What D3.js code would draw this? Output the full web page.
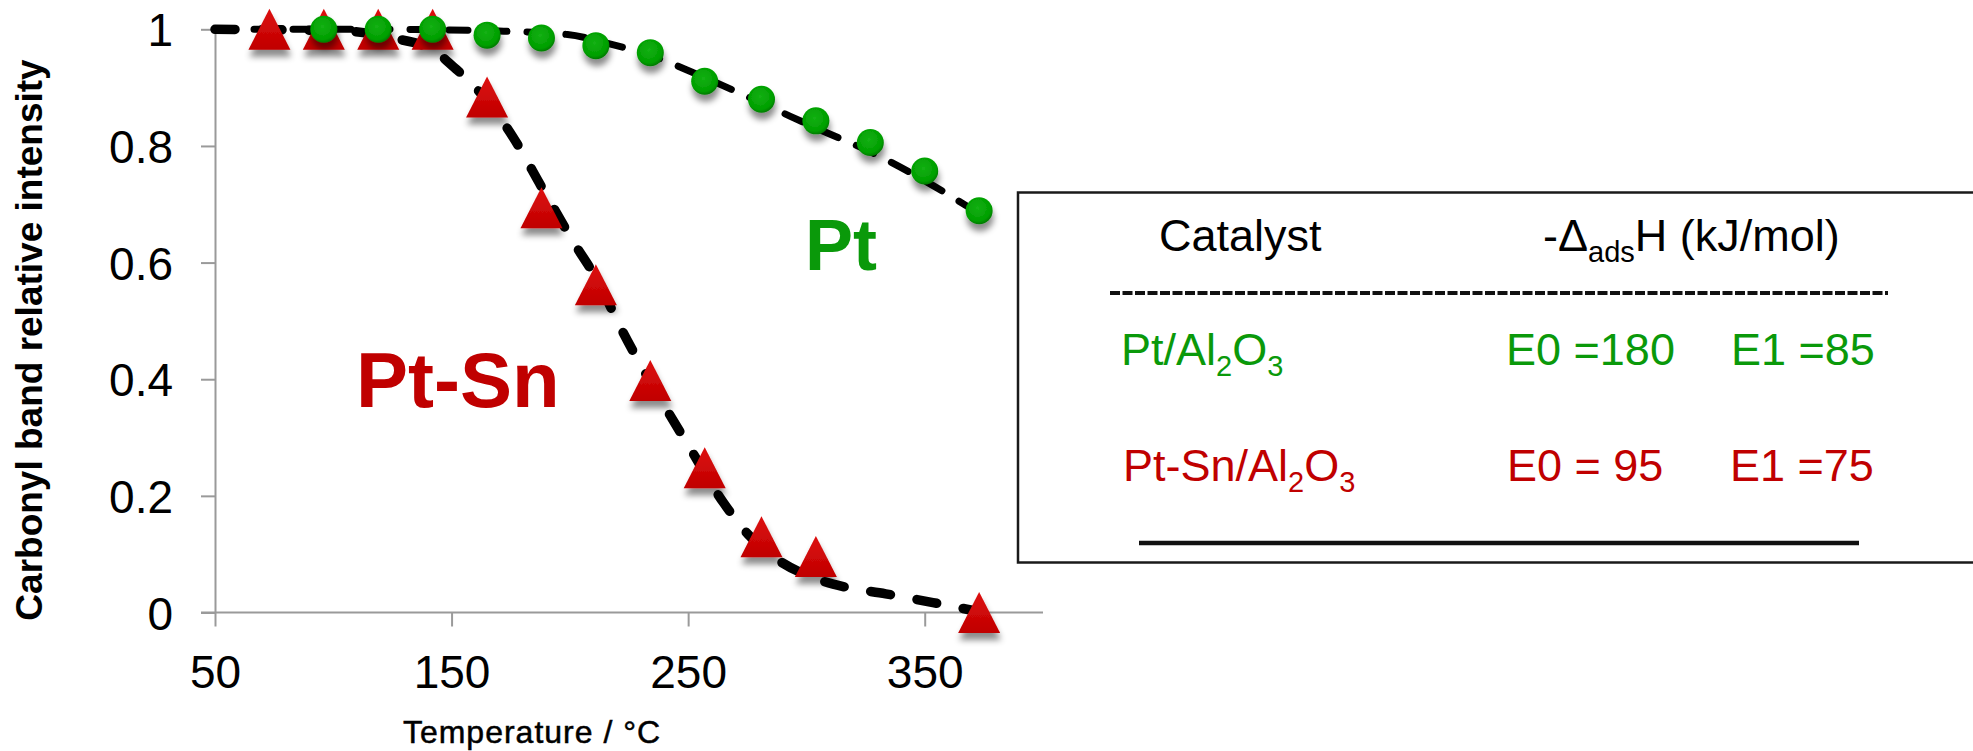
<!DOCTYPE html>
<html>
<head>
<meta charset="utf-8">
<script src="https://cdn.jsdelivr.net/npm/d3@7/dist/d3.min.js"></script>
<style>
  html, body { margin: 0; padding: 0; background: #fff; }
  svg { display: block; }
  text { font-family: "Liberation Sans", Arial, sans-serif; }
</style>
</head>
<body>
<svg id="chart" width="1973" height="751"></svg>
<script>
// ---- data ----
const ptSnTemp = [73, 96, 119, 142, 165, 188, 211, 234, 257, 281, 304, 373];
const ptSnVal  = [1, 1, 1, 1, 0.884, 0.694, 0.562, 0.398, 0.248, 0.13, 0.096, 0.0];

const ptTemp = [96, 119, 142, 165, 188, 211, 234, 257, 281, 304, 327, 350, 373];
const ptVal  = [1, 1, 1, 0.99, 0.985, 0.972, 0.96, 0.911, 0.88, 0.843, 0.806, 0.757, 0.689];

// fitted curves
const ptFitTemp = [50, 120, 170, 199, 216, 233.5, 256, 285, 305, 328, 351, 371];
const ptFitVal  = [1, 1, 0.997, 0.991, 0.976, 0.956, 0.919, 0.866, 0.829, 0.788, 0.738, 0.689];

const ptSnFitTemp = [50, 105, 125, 142, 151, 159, 176, 188, 202, 211, 222, 239, 250, 265, 276, 288, 302, 316, 333.5, 353.5, 371];
const ptSnFitVal  = [1, 0.997, 0.985, 0.965, 0.935, 0.905, 0.815, 0.73, 0.632, 0.574, 0.484, 0.361, 0.287, 0.188, 0.131, 0.09, 0.061, 0.044, 0.032, 0.017, 0.003];

const xTicks = [50, 150, 250, 350];
const yTicks = [0, 0.2, 0.4, 0.6, 0.8, 1];
const yTickLabels = ["0", "0.2", "0.4", "0.6", "0.8", "1"];

const tableHeader = ["Catalyst", "-Δ", "ads", "H (kJ/mol)"];
const tableRows = [
  { name: "Pt/Al", e0: "E0 =180", e1: "E1 =85", color: "#0a990a" },
  { name: "Pt-Sn/Al", e0: "E0 = 95", e1: "E1 =75", color: "#c00000" }
];

// ---- layout ----
const svg = d3.select("#chart");
const x = d3.scaleLinear().domain([50, 400]).range([215, 1043]);
const y = d3.scaleLinear().domain([0, 1]).range([612.5, 29.3]);

const defs = svg.append("defs");
const f = defs.append("filter").attr("id", "shadow")
  .attr("x", "-50%").attr("y", "-50%").attr("width", "200%").attr("height", "220%");
f.append("feDropShadow").attr("dx", 1).attr("dy", 7).attr("stdDeviation", 3.2)
  .attr("flood-color", "#000").attr("flood-opacity", 0.45);

const tg = defs.append("linearGradient").attr("id", "triGrad").attr("x1", 0).attr("y1", 0).attr("x2", 0).attr("y2", 1);
tg.append("stop").attr("offset", "0%").attr("stop-color", "#dd1010");
tg.append("stop").attr("offset", "100%").attr("stop-color", "#c00000");
const cg = defs.append("radialGradient").attr("id", "cirGrad").attr("cx", "45%").attr("cy", "40%").attr("r", "60%");
cg.append("stop").attr("offset", "0%").attr("stop-color", "#14b014");
cg.append("stop").attr("offset", "80%").attr("stop-color", "#009f00");
cg.append("stop").attr("offset", "100%").attr("stop-color", "#007a00");

// ---- axes ----
const axisColor = "#9a9a9a";
const yAxis = d3.axisLeft(y).tickValues(yTicks).tickSize(14).tickSizeOuter(0)
  .tickFormat((d, i) => yTickLabels[i]).tickPadding(28);
const gy = svg.append("g").attr("transform", `translate(${x(50)},0)`).call(yAxis);
gy.selectAll("path,line").attr("stroke", axisColor).attr("stroke-width", 2);
gy.selectAll("text").attr("font-size", 46).attr("fill", "#000").attr("dy", "0.36em")
  .attr("font-family", "Liberation Sans, Arial, sans-serif");

const xAxis = d3.axisBottom(x).tickValues(xTicks).tickSize(14).tickSizeOuter(0).tickPadding(0);
const gx = svg.append("g").attr("transform", `translate(0,${y(0)})`).call(xAxis);
gx.select(".domain").remove();
gx.append("line").attr("x1", x(50) - 14).attr("x2", x(400)).attr("y1", 0).attr("y2", 0)
  .attr("stroke", axisColor).attr("stroke-width", 2);
gx.selectAll("line").attr("stroke", axisColor).attr("stroke-width", 2);
gx.selectAll(".tick text").attr("font-size", 46).attr("fill", "#000").attr("y", 75).attr("dy", 0)
  .attr("font-family", "Liberation Sans, Arial, sans-serif");

svg.append("text").attr("x", 532).attr("y", 743).attr("text-anchor", "middle")
  .attr("font-size", 32).attr("letter-spacing", 1).attr("fill", "#000")
  .attr("stroke", "#000").attr("stroke-width", 0.5)
  .text("Temperature / °C");

svg.append("text").attr("transform", "translate(42,340) rotate(-90)")
  .attr("text-anchor", "middle").attr("font-size", 37).attr("font-weight", "bold").attr("fill", "#000")
  .text("Carbonyl band relative intensity");

// ---- fit lines ----
const line = d3.line().x(d => x(d[0])).y(d => y(d[1])).curve(d3.curveMonotoneX);
svg.append("path").datum(ptFitTemp.map((t, i) => [t, ptFitVal[i]]))
  .attr("d", line).attr("fill", "none").attr("stroke", "#000").attr("stroke-width", 7)
  .attr("stroke-linecap", "round").attr("stroke-dasharray", "19,20");
svg.append("path").datum(ptSnFitTemp.map((t, i) => [t, ptSnFitVal[i]]))
  .attr("d", line).attr("fill", "none").attr("stroke", "#000").attr("stroke-width", 9.5)
  .attr("stroke-linecap", "round").attr("stroke-dasharray", "20,27");

// ---- markers ----
const tri = (cx, cy) => `M${cx},${cy - 20.5}L${cx + 21},${cy + 20.5}L${cx - 21},${cy + 20.5}Z`;
svg.append("g").attr("filter", "url(#shadow)").selectAll("path")
  .data(ptSnTemp.map((t, i) => [t, ptSnVal[i]])).join("path")
  .attr("d", d => tri(x(d[0]), y(d[1])))
  .attr("fill", "url(#triGrad)");

svg.append("g").attr("filter", "url(#shadow)").selectAll("circle")
  .data(ptTemp.map((t, i) => [t, ptVal[i]])).join("circle")
  .attr("cx", d => x(d[0])).attr("cy", d => y(d[1])).attr("r", 13.5)
  .attr("fill", "url(#cirGrad)");

// ---- in-plot labels ----
svg.append("text").attr("x", 805).attr("y", 270).attr("font-size", 72).attr("font-weight", "bold")
  .attr("fill", "#0a990a").text("Pt");
svg.append("text").attr("x", 356).attr("y", 407).attr("font-size", 78).attr("font-weight", "bold")
  .attr("fill", "#c00000").text("Pt-Sn");

// ---- table box ----
svg.append("rect").attr("x", 1018).attr("y", 192.5).attr("width", 1000).attr("height", 370)
  .attr("fill", "none").attr("stroke", "#1a1a1a").attr("stroke-width", 2.5);

const fs = 45, sub = 29, sh = 11;
svg.append("text").attr("x", 1159).attr("y", 251).attr("font-size", fs).attr("fill", "#000").text(tableHeader[0]);
const h = svg.append("text").attr("x", 1543).attr("y", 251).attr("font-size", fs).attr("fill", "#000");
h.append("tspan").text(tableHeader[1]);
h.append("tspan").attr("font-size", sub).attr("dy", sh).text(tableHeader[2]);
h.append("tspan").attr("dy", -sh).text(tableHeader[3]);

svg.append("line").attr("x1", 1110).attr("x2", 1888).attr("y1", 293).attr("y2", 293)
  .attr("stroke", "#111").attr("stroke-width", 4).attr("stroke-dasharray", "10,2.5");

const rowY = [365, 481];
const nameX = [1121, 1123];
const e0X = [1506, 1507];
const e1X = [1731, 1730];
tableRows.forEach((r, i) => {
  const t = svg.append("text").attr("x", nameX[i]).attr("y", rowY[i]).attr("font-size", fs).attr("fill", r.color);
  t.append("tspan").text(r.name);
  t.append("tspan").attr("font-size", sub).attr("dy", sh).text("2");
  t.append("tspan").attr("dy", -sh).text("O");
  t.append("tspan").attr("font-size", sub).attr("dy", sh).text("3");
  svg.append("text").attr("x", e0X[i]).attr("y", rowY[i]).attr("font-size", fs).attr("fill", r.color).text(r.e0);
  svg.append("text").attr("x", e1X[i]).attr("y", rowY[i]).attr("font-size", fs).attr("fill", r.color).text(r.e1);
});

svg.append("line").attr("x1", 1139).attr("x2", 1859).attr("y1", 543).attr("y2", 543)
  .attr("stroke", "#111").attr("stroke-width", 4.5);
</script>
</body>
</html>
